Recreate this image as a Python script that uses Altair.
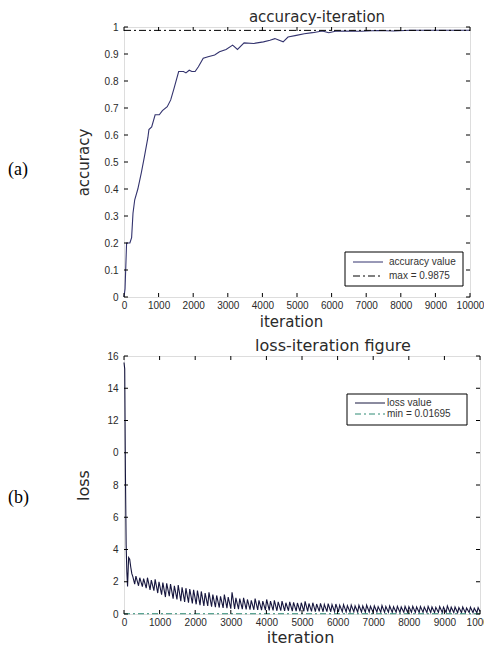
import altair as alt
import pandas as pd

# ---------------- data ----------------
acc_iter = [0, 30, 75, 170, 220, 260, 310, 400, 500, 590, 690, 720, 800, 900, 1020, 1110, 1250, 1350, 1440, 1580,
            1720, 1790, 1885, 1960, 2055, 2150, 2290, 2430, 2620, 2760, 2950, 3140, 3280, 3470, 3750, 4030, 4220,
            4360, 4600, 4740, 4980, 5210, 5450, 5730, 5920, 6110, 6390, 6860, 7330, 7800, 8270, 8750, 9220, 10000]
acc_val = [0, 0.03, 0.2, 0.2, 0.22, 0.31, 0.36, 0.40, 0.46, 0.52, 0.59, 0.62, 0.63, 0.675, 0.675, 0.69, 0.705, 0.73,
           0.77, 0.835, 0.835, 0.83, 0.84, 0.835, 0.835, 0.853, 0.884, 0.89, 0.896, 0.908, 0.917, 0.933, 0.917,
           0.941, 0.939, 0.945, 0.951, 0.957, 0.945, 0.963, 0.969, 0.975, 0.979, 0.985, 0.979, 0.984, 0.985, 0.984,
           0.987, 0.985, 0.988, 0.988, 0.988, 0.988]
acc_max = 0.9875

loss_init_iter = [0, 20, 40, 60, 80, 100, 130, 160, 190, 220, 250]
loss_init_val = [15.6, 15.2, 8.7, 4.3, 2.6, 1.7, 3.5, 3.4, 2.9, 2.5, 2.3]
loss_cycle_start = 300
loss_cycle_len = 108
loss_peaks = [2.35, 2.25, 2.2, 2.25, 2.1, 2.15, 2.0,
              1.95, 1.9, 1.85, 1.75, 1.8, 1.65, 1.6, 1.55, 1.5,
              1.45, 1.4, 1.3, 1.35, 1.2, 1.15, 1.1, 1.2, 1.05,
              1.35,
              1.0, 0.95, 1.0, 0.9, 0.85, 0.95, 0.85, 0.8,
              0.9, 0.8, 0.85, 0.75, 0.8, 0.7, 0.75, 0.72, 0.68, 0.7,
              0.78, 0.65, 0.7, 0.62, 0.66, 0.6, 0.64, 0.58, 0.62,
              0.55, 0.58, 0.52, 0.56, 0.5, 0.54, 0.5, 0.55, 0.48,
              0.5, 0.46, 0.52, 0.47, 0.5, 0.45, 0.48, 0.44, 0.47,
              0.45, 0.48, 0.44, 0.46, 0.43, 0.47, 0.44, 0.42, 0.46, 0.43,
              0.5, 0.42, 0.44, 0.4, 0.43, 0.38, 0.42, 0.36, 0.4]
loss_troughs = [1.85, 1.75, 1.7, 1.6, 1.5, 1.45, 1.3,
                1.2, 1.05, 1.1, 0.95, 0.9, 0.8, 0.75, 0.7, 0.65,
                0.6, 0.55, 0.5, 0.5, 0.45, 0.42, 0.4, 0.38, 0.36,
                0.33,
                0.32, 0.3, 0.3, 0.28, 0.27, 0.26, 0.25, 0.24,
                0.24, 0.22, 0.22, 0.2, 0.21, 0.19, 0.2, 0.18, 0.18, 0.17,
                0.17, 0.16, 0.16, 0.15, 0.16, 0.14, 0.15, 0.14, 0.14,
                0.13, 0.14, 0.13, 0.12, 0.13, 0.12, 0.12, 0.11, 0.12,
                0.11, 0.12, 0.11, 0.1, 0.11, 0.1, 0.11, 0.1, 0.1,
                0.1, 0.11, 0.1, 0.09, 0.1, 0.09, 0.1, 0.09, 0.1, 0.09,
                0.09, 0.1, 0.09, 0.08, 0.09, 0.08, 0.09, 0.08, 0.08]
loss_end_iter = 10000
loss_end_val = 0.15
loss_min = 0.01695

x_ticks = [0, 1000, 2000, 3000, 4000, 5000, 6000, 7000, 8000, 9000, 10000]
acc_yticks = [0, 0.1, 0.2, 0.3, 0.4, 0.5, 0.6, 0.7, 0.8, 0.9, 1]
loss_yticks = [0, 2, 4, 6, 8, 10, 12, 14, 16]

acc_title = "accuracy-iteration"
loss_title = "loss-iteration figure"
acc_legend = ["accuracy value", "max = 0.9875"]
loss_legend = ["loss value", "min = 0.01695"]

# ---------------- tables ----------------
acc_df = pd.DataFrame({"iteration": acc_iter, "value": acc_val})
li, lv = list(loss_init_iter), list(loss_init_val)
for k, (p, t) in enumerate(zip(loss_peaks, loss_troughs)):
    base = loss_cycle_start + loss_cycle_len * k
    li += [base, base + 35]
    lv += [t, p]
li.append(loss_end_iter)
lv.append(loss_end_val)
loss_df = pd.DataFrame({"iteration": li, "value": lv})

TXT = "#2a2a2a"
SANS = "DejaVu Sans"
TICKF = "Liberation Sans"


def panel(df, W, H, ydom, yticks, yfmt, ylabel_expr, title, title_dx, fs, ytitle, xtitle_x, xtitle_y, ref_val,
          ref_color, ref_dash, line_color, legend_labels, leg_box, leg_rows, leg_label_x, tag, tag_y):
    xs = alt.Scale(domain=[0, 10000], nice=False, zero=False)
    ys = alt.Scale(domain=ydom, nice=False, zero=False)
    xaxis = alt.Axis(values=x_ticks, format="d", title="iteration", grid=False, ticks=False, domain=False,
                     labelFont=TICKF, labelFontSize=10, labelColor=TXT, labelPadding=3, labelFlush=False,
                     labelOverlap=False, titleFont=SANS, titleFontSize=fs, titleFontWeight="normal",
                     titleColor=TXT, titleX=xtitle_x, titleY=xtitle_y, titleBaseline="middle",
                     titleAlign="center")
    yaxis_kw = dict(values=yticks, format=yfmt, title=ytitle, grid=False, ticks=False, domain=False,
                    labelFont=TICKF, labelFontSize=10, labelColor=TXT, labelPadding=6, labelOverlap=False,
                    titleFont=SANS, titleFontSize=fs, titleFontWeight="normal", titleColor=TXT,
                    titleX=-41, titleY=H / 2, titleAngle=270, titleBaseline="middle", titleAlign="center")
    if ylabel_expr:
        yaxis_kw["labelExpr"] = ylabel_expr
    yaxis = alt.Axis(**yaxis_kw)

    X = lambda: alt.X("iteration:Q", scale=xs, axis=xaxis, title="iteration")
    Y = lambda: alt.Y("value:Q", scale=ys, axis=yaxis, title=ytitle)

    line = alt.Chart(df).mark_line(color=line_color, strokeWidth=1.1).encode(x=X(), y=Y())
    ref = alt.Chart(pd.DataFrame({"value": [ref_val]})).mark_rule(
        color=ref_color, strokeWidth=1, strokeDash=ref_dash).encode(
        y=Y(), x=alt.value(0), x2=alt.value(W))

    xt = pd.DataFrame({"iteration": x_ticks})
    yt = pd.DataFrame({"value": yticks})
    tick_bot = alt.Chart(xt).mark_rule(color="#000").encode(x=X(), y=alt.value(H), y2=alt.value(H - 4))
    tick_top = alt.Chart(xt).mark_rule(color="#000").encode(x=X(), y=alt.value(0), y2=alt.value(4))
    tick_l = alt.Chart(yt).mark_rule(color="#000").encode(y=Y(), x=alt.value(0), x2=alt.value(4))
    tick_r = alt.Chart(yt).mark_rule(color="#000").encode(y=Y(), x=alt.value(W - 4), x2=alt.value(W))

    one = pd.DataFrame({"a": [0]})
    bx0, by0, bx1, by1 = leg_box
    box = alt.Chart(one).mark_rect(fill="white", stroke="#000", strokeWidth=1).encode(
        x=alt.value(bx0), x2=alt.value(bx1), y=alt.value(by0), y2=alt.value(by1))
    sym1 = alt.Chart(one).mark_rule(color=line_color, strokeWidth=1).encode(
        x=alt.value(bx0 + 8), x2=alt.value(bx0 + 38), y=alt.value(leg_rows[0]))
    sym2 = alt.Chart(one).mark_rule(color=ref_color, strokeWidth=1, strokeDash=ref_dash).encode(
        x=alt.value(bx0 + 8), x2=alt.value(bx0 + 38), y=alt.value(leg_rows[1]))
    lab1 = alt.Chart(one).mark_text(text=legend_labels[0], font=TICKF, fontSize=10, color="#333",
                                    align="left", baseline="middle").encode(
        x=alt.value(leg_label_x), y=alt.value(leg_rows[0]))
    lab2 = alt.Chart(one).mark_text(text=legend_labels[1], font=TICKF, fontSize=10, color="#333",
                                    align="left", baseline="middle").encode(
        x=alt.value(leg_label_x), y=alt.value(leg_rows[1]))
    tagm = alt.Chart(one).mark_text(text=tag, font="Liberation Serif", fontSize=18, color="#000",
                                    align="left", baseline="middle").encode(
        x=alt.value(-116), y=alt.value(tag_y))

    return alt.layer(line, ref, tick_bot, tick_top, tick_l, tick_r, box, sym1, sym2, lab1, lab2, tagm).properties(
        width=W, height=H,
        title=alt.TitleParams(title, font=SANS, fontSize=fs, fontWeight="normal", color=TXT, offset=-3,
                              dx=title_dx),
    )


top = panel(acc_df, 346, 270, [0, 1], acc_yticks, ".1~f", None, acc_title, 20, 15, "accuracy", 167, 24,
            acc_max, "#000", [7, 3, 2, 3], "#33336e", acc_legend, (221, 225, 339, 259), (235, 249), 265,
            "(a)", 143)
bottom = panel(loss_df, 356, 258, [0, 16], loss_yticks, "d", "datum.value == 10 ? '0' : datum.label",
               loss_title, 31, 16, "loss", 176, 23, loss_min, "#2e8b74", [6, 3, 2, 3], "#16163e", loss_legend,
               (223, 38, 343, 69), (47, 58), 263, "(b)", 142)

chart = alt.vconcat(top, bottom, spacing=7).properties(
    autosize=alt.AutoSizeParams(type="none"),
    padding={"left": 116, "top": 19, "right": 360, "bottom": 619},
).configure_view(stroke="#000", strokeWidth=1).configure(background="white")

chart.save("out.html", embed_options={"renderer": "svg", "actions": False})
